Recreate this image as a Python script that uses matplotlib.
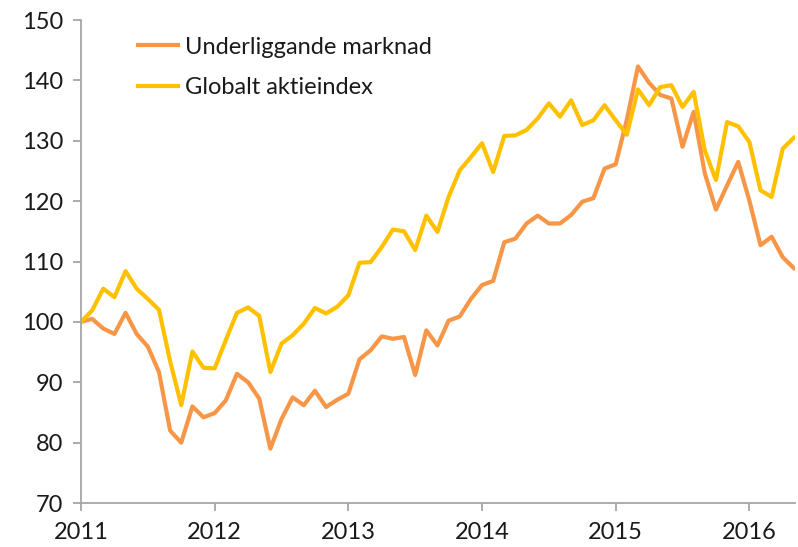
import numpy as np
import matplotlib.pyplot as plt

# monthly index values, Jan 2011 - May 2016
underliggande = [100.0, 100.5, 98.9, 98.0, 101.5, 98.0, 95.9, 91.7, 82.0, 80.0,
                 86.0, 84.2, 84.9, 87.0, 91.4, 90.0, 87.3, 79.0, 83.9, 87.5,
                 86.2, 88.6, 85.9, 87.1, 88.1, 93.8, 95.3, 97.6, 97.2, 97.5,
                 91.2, 98.6, 96.1, 100.2, 100.9, 103.8, 106.1, 106.8, 113.2, 113.8,
                 116.3, 117.6, 116.3, 116.3, 117.7, 119.9, 120.5, 125.4, 126.1, 133.5,
                 142.3, 139.6, 137.6, 137.0, 129.0, 134.8, 124.6, 118.6, 122.6, 126.5,
                 120.1, 112.7, 114.1, 110.7, 108.9]
globalt = [100.0, 101.9, 105.5, 104.1, 108.4, 105.5, 103.8, 102.0, 93.5, 86.2,
           95.1, 92.4, 92.3, 97.0, 101.5, 102.4, 101.0, 91.7, 96.4, 97.8,
           99.7, 102.3, 101.4, 102.5, 104.4, 109.8, 109.9, 112.4, 115.3, 115.0,
           111.9, 117.6, 114.9, 120.7, 125.1, 127.3, 129.6, 124.8, 130.8, 130.9,
           131.8, 133.7, 136.2, 134.0, 136.7, 132.6, 133.4, 135.9, 133.4, 131.0,
           138.5, 135.9, 138.9, 139.2, 135.6, 138.1, 128.4, 123.5, 133.1, 132.4,
           129.8, 121.8, 120.7, 128.7, 130.5]
years = [2011, 2012, 2013, 2014, 2015, 2016]

x = 2011 + np.arange(len(underliggande)) / 12.0

plt.rcParams['font.family'] = ['Lato', 'DejaVu Sans']
text_col = '#1a1a1a'
axis_col = '#a6a6a6'

fig = plt.figure(figsize=(7.98, 5.47), dpi=100)
ax = fig.add_axes([0.1015, 0.0804, 0.8945, 0.883])

ax.plot(x, underliggande, color='#F79646', lw=3, label='Underliggande marknad')
ax.plot(x, globalt, color='#FFC000', lw=3, label='Globalt aktieindex')

ax.set_xlim(2011, 2016.34)
ax.set_ylim(70, 150)
ax.set_yticks(range(70, 151, 10))
ax.set_xticks(years)
ax.set_xticklabels([str(y) for y in years])

for s in ['top', 'right']:
    ax.spines[s].set_visible(False)
for s in ['left', 'bottom']:
    ax.spines[s].set_color(axis_col)
    ax.spines[s].set_linewidth(1.3)
ax.tick_params(axis='both', colors=axis_col, length=6, width=1.3,
               labelcolor=text_col, labelsize=17)
ax.tick_params(axis='y', pad=7)
ax.tick_params(axis='x', pad=8)

leg = ax.legend(loc='upper left', bbox_to_anchor=(0.067, 0.985), frameon=False,
                fontsize=17, handlelength=1.7, handletextpad=0.3,
                labelspacing=0.83, borderaxespad=0)
for t in leg.get_texts():
    t.set_color(text_col)

fig.savefig('out.png', dpi=100)
